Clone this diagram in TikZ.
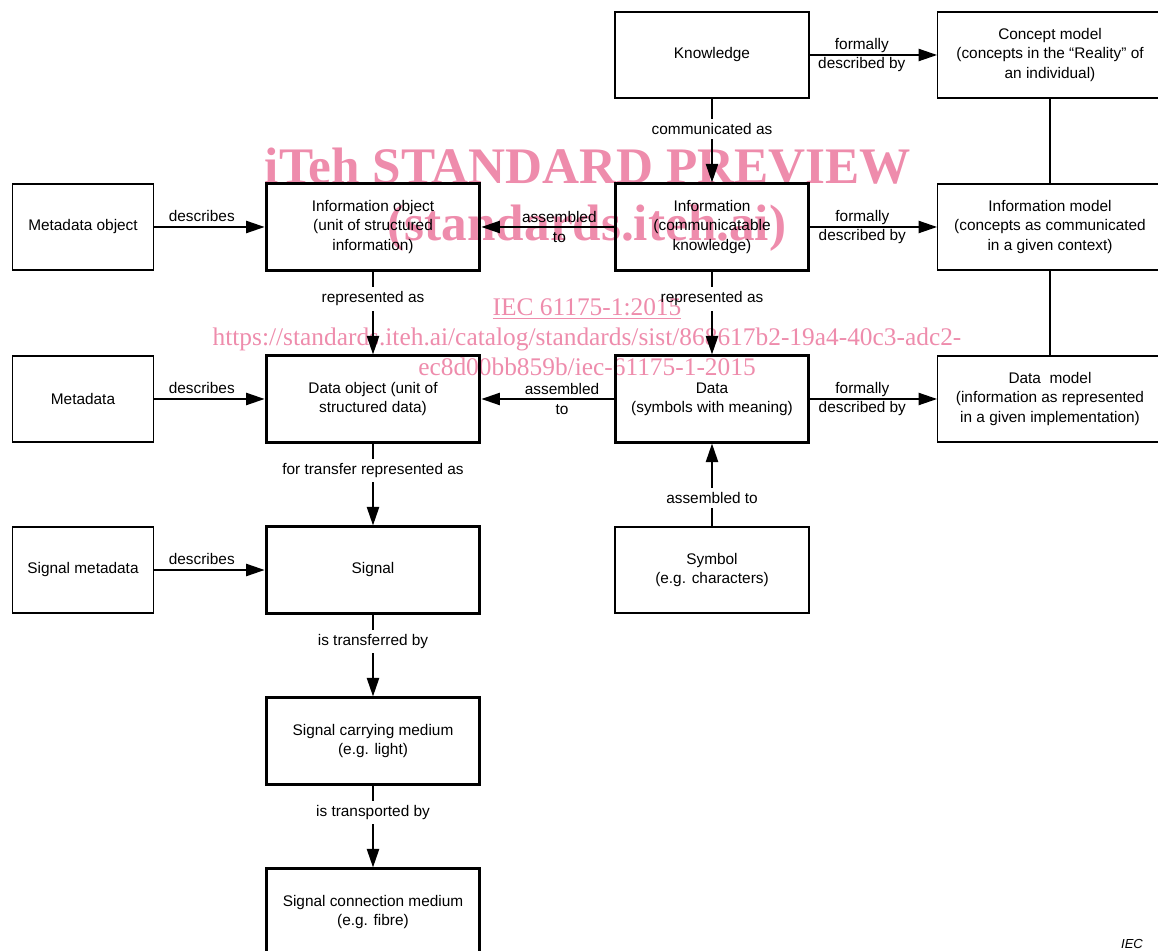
\documentclass[tikz,border=0pt]{standalone}
\usepackage{fontspec}
\setmainfont{Liberation Sans}
\newfontfamily\wmfont{Liberation Serif}
\usetikzlibrary{arrows.meta}
\definecolor{wmpink}{RGB}{238,140,172}

\begin{document}
\begin{tikzpicture}[x=0.65pt, y=-0.65pt,
    font=\fontsize{10}{12.5}\selectfont,
    box/.style={draw, line width=0.9pt, minimum height=56pt, align=center, inner sep=2pt},
    mainbox/.style={box, line width=2pt},
    smallw/.style={minimum width=92pt},
    midw/.style={minimum width=139pt},
    colw/.style={minimum width=126pt},
    widew/.style={minimum width=146pt},
    arr/.style={line width=0.9pt, -{Triangle[length=12pt,width=8pt]}},
    plain/.style={line width=0.9pt},
    hlbl/.style={align=center, inner sep=0pt},
    vlbl/.style={fill=white, inner sep=3pt, pos=0.33},
    wm/.style={text=wmpink, inner sep=0pt, blend mode=multiply}]

    \useasboundingbox (0,0) rectangle (1158,951);

    % Right column: knowledge, information, data, symbol
    \node[box, colw] (know) at (712,55) {Knowledge};
    \node[mainbox, colw] (info) at (712,227) {Information\\(communicatable\\knowledge)};
    \node[mainbox, colw] (data) at (712,399) {Data\\(symbols with meaning)};
    \node[box, colw] (symbol) at (712,570) {Symbol\\(e.g. characters)};

    % Models
    \node[box, widew] (concept) at (1050,55) {Concept model\\(concepts in the ``Reality'' of\\an individual)};
    \node[box, widew] (infomodel) at (1050,227) {Information model\\(concepts as communicated\\in a given context)};
    \node[box, widew] (datamodel) at (1050,399) {Data\ \ model\\(information as represented\\in a given implementation)};

    % Objects and signals
    \node[mainbox, midw] (infoobj) at (373,227) {Information object\\(unit of structured\\information)};
    \node[mainbox, midw] (dataobj) at (373,399) {Data object (unit of\\structured data)};
    \node[mainbox, midw] (signal) at (373,570) {Signal};
    \node[mainbox, midw] (carrier) at (373,741) {Signal carrying medium\\(e.g. light)};
    \node[mainbox, midw] (connmed) at (373,912) {Signal connection medium\\(e.g. fibre)};

    % Metadata
    \node[box, smallw] (metaobj) at (83,227) {Metadata object};
    \node[box, smallw] (metadata) at (83,399) {Metadata};
    \node[box, smallw] (sigmeta) at (83,570) {Signal metadata};

    % Formally described by
    \draw[arr] (know) -- node[hlbl, pos=0.41] {formally\\described by} (concept);
    \draw[arr] (info) -- node[hlbl, pos=0.41] {formally\\described by} (infomodel);
    \draw[arr] (data) -- node[hlbl, pos=0.41] {formally\\described by} (datamodel);
    \draw[plain] (concept) -- (infomodel);
    \draw[plain] (infomodel) -- (datamodel);

    % Assembled to
    \draw[arr] (info) -- node[hlbl, pos=0.41] {assembled\\to} (infoobj);
    \draw[arr] (data) -- node[hlbl, pos=0.39] {assembled\\to} (dataobj);
    \draw[arr] (symbol) -- node[vlbl, pos=0.34] {assembled to} (data);

    % Describes
    \draw[arr] (metaobj) -- node[above, pos=0.43] {describes} (infoobj);
    \draw[arr] (metadata) -- node[above, pos=0.43] {describes} (dataobj);
    \draw[arr] (sigmeta) -- node[above, pos=0.43] {describes} (signal);

    % Vertical chains
    \draw[arr] (know) -- node[vlbl, pos=0.36] {communicated as} (info);
    \draw[arr] (info) -- node[vlbl] {represented as} (data);
    \draw[arr] (infoobj) -- node[vlbl] {represented as} (dataobj);
    \draw[arr] (dataobj) -- node[vlbl] {for transfer represented as} (signal);
    \draw[arr] (signal) -- node[vlbl] {is transferred by} (carrier);
    \draw[arr] (carrier) -- node[vlbl] {is transported by} (connmed);

    \node[font=\fontsize{8.5}{10}\selectfont\itshape] (ieclabel) at (1132,944) {IEC};

    % Watermark
    \node[wm, font=\wmfont\bfseries\fontsize{33.3}{33}\selectfont] (wmtitle) at (588,166) {iTeh STANDARD PREVIEW};
    \node[wm, font=\wmfont\bfseries\fontsize{33.3}{33}\selectfont] (wmsite) at (587,228) {(standards.iteh.ai)};
    \node[wm, align=center, font=\wmfont\fontsize{16.5}{19.5}\selectfont] (wmurl) at (587,337)
        {\underline{IEC 61175-1:2015}\\https://standards.iteh.ai/catalog/standards/sist/868617b2-19a4-40c3-adc2-\\ec8d00bb859b/iec-61175-1-2015};
\end{tikzpicture}
\end{document}
